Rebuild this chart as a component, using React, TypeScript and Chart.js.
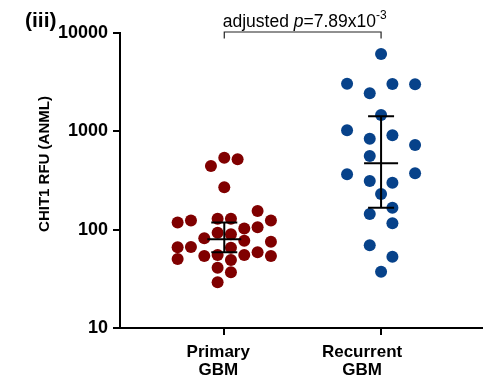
import { useEffect, useRef } from 'react';
import { Chart, registerables } from 'chart.js';

Chart.register(...registerables);

const FONT = '"Liberation Sans", Arial, sans-serif';

const categoryLabels = [['Primary', 'GBM'], ['Recurrent', 'GBM']];
const categoryPositions = [1, 2];
const yTickValues = [10, 100, 1000, 10000];
const yTickLabels = ['10', '100', '1000', '10000'];
const yAxisTitle = 'CHIT1 RFU (ANML)';
const panelLabel = '(iii)';
const annotationParts = ['adjusted ', 'p', '=7.89x10', '-3'];

const primaryValues = [
  444, 539, 519, 270, 155, 118, 124, 129, 129, 124, 103, 106, 93, 89.7, 81.7,
  77.2, 75.4, 66.2, 66.7, 65.6, 55.2, 54, 55.2, 58.9, 54, 50.3, 49.2, 41, 36.8, 29.2,
];
const primarySlots = [
  -1, 0, 1, 0, 2.5, -3.5, -2.5, -0.5, 0.5, 3.5, 1.5, 2.5, -0.5, 0.5, -1.5,
  1.5, 3.5, -3.5, -2.5, 0.5, -0.5, -1.5, 1.5, 2.5, 3.5, -3.5, 0.5, -0.5, 0.5, -0.5,
];
const recurrentValues = [
  6116, 3050, 3030, 3010, 2436, 1466, 1024, 841, 911, 726, 561, 366, 374, 312, 300,
  231, 167, 144, 116, 69.3, 53.1, 37.4,
];
const recurrentSlots = [
  0, -3, 1, 3, -1, 0, -3, -1, 1, 3, -1, -3, 3, -1, 1,
  0, 1, -1, 1, -1, 1, 0,
];

const medians = [79.8, 473];
const lowerBars = [58.9, 167];
const upperBars = [118, 1422];

const primarySlotWidth = 0.085;
const recurrentSlotWidth = 0.0723;
const labelShifts = [-6, -19];

const overlayPlugin = {
  id: 'overlay',
  afterDatasetsDraw(chart: any) {
    const { ctx, scales } = chart;
    const xs = scales.x;
    const ys = scales.y;
    ctx.save();
    ctx.strokeStyle = '#000';
    ctx.lineWidth = 2;
    categoryPositions.forEach((c, i) => {
      const px = xs.getPixelForValue(c);
      const yMed = ys.getPixelForValue(medians[i]);
      const yLo = ys.getPixelForValue(lowerBars[i]);
      const yHi = ys.getPixelForValue(upperBars[i]);
      ctx.beginPath();
      ctx.moveTo(px, yHi);
      ctx.lineTo(px, yLo);
      ctx.moveTo(px - 17, yMed);
      ctx.lineTo(px + 17, yMed);
      ctx.moveTo(px - 13, yHi);
      ctx.lineTo(px + 13, yHi);
      ctx.moveTo(px - 13, yLo);
      ctx.lineTo(px + 13, yLo);
      ctx.stroke();
    });
    ctx.restore();
  },
  afterDraw(chart: any) {
    const { ctx, scales, chartArea } = chart;
    const xs = scales.x;
    const x1 = xs.getPixelForValue(categoryPositions[0]);
    const x2 = xs.getPixelForValue(categoryPositions[1]);
    ctx.save();
    // bracket
    const by = chartArea.top - 1;
    ctx.strokeStyle = '#222';
    ctx.lineWidth = 1.2;
    ctx.beginPath();
    ctx.moveTo(x1, by + 6.5);
    ctx.lineTo(x1, by);
    ctx.lineTo(x2, by);
    ctx.lineTo(x2, by + 6.5);
    ctx.stroke();

    // annotation text
    const fonts = [
      `17.5px ${FONT}`,
      `italic 17.5px ${FONT}`,
      `17.5px ${FONT}`,
      `12px ${FONT}`,
    ];
    let total = 0;
    const widths = annotationParts.map((t, i) => {
      ctx.font = fonts[i];
      const w = ctx.measureText(t).width;
      total += w;
      return w;
    });
    let x = (x1 + x2) / 2 - total / 2 + 2;
    const baseline = 27;
    ctx.fillStyle = '#000';
    ctx.textAlign = 'left';
    ctx.textBaseline = 'alphabetic';
    annotationParts.forEach((t, i) => {
      ctx.font = fonts[i];
      ctx.fillText(t, x, i === 3 ? baseline - 8 : baseline);
      x += widths[i];
    });

    // category labels
    ctx.font = `bold 17px ${FONT}`;
    ctx.textAlign = 'center';
    ctx.textBaseline = 'middle';
    categoryPositions.forEach((c, i) => {
      const px = xs.getPixelForValue(c) + labelShifts[i];
      categoryLabels[i].forEach((line, j) => {
        ctx.fillText(line, px, chartArea.bottom + 24 + j * 18.3);
      });
    });

    // panel label
    ctx.textAlign = 'left';
    ctx.textBaseline = 'alphabetic';
    ctx.font = `bold 21px ${FONT}`;
    ctx.fillText(panelLabel, 25, 27);

    // y axis title
    ctx.translate(45, 164);
    ctx.rotate(-Math.PI / 2);
    ctx.font = `bold 15px ${FONT}`;
    ctx.textAlign = 'center';
    ctx.textBaseline = 'middle';
    ctx.fillText(yAxisTitle, 0, 0);
    ctx.restore();
  },
};

export default function App() {
  const ref = useRef<HTMLCanvasElement | null>(null);
  useEffect(() => {
    if (!ref.current) return;
    const chart = new Chart(ref.current, {
      type: 'scatter',
      data: {
        datasets: [
          {
            label: 'Primary GBM',
            data: primaryValues.map((v, i) => ({ x: categoryPositions[0] + primarySlots[i] * primarySlotWidth, y: v })),
            backgroundColor: '#800000',
            borderWidth: 0,
            pointRadius: 6,
          },
          {
            label: 'Recurrent GBM',
            data: recurrentValues.map((v, i) => ({ x: categoryPositions[1] + recurrentSlots[i] * recurrentSlotWidth, y: v })),
            backgroundColor: '#07428a',
            borderWidth: 0,
            pointRadius: 6,
          },
        ],
      },
      options: {
        animation: false,
        responsive: false,
        maintainAspectRatio: false,
        layout: { autoPadding: false, padding: { top: 33, left: 0, right: 0, bottom: 0 } },
        plugins: { legend: { display: false }, tooltip: { enabled: false } },
        scales: {
          x: {
            type: 'linear',
            min: 0.335,
            max: 2.65,
            afterBuildTicks: (s: any) => {
              s.ticks = categoryPositions.map((v) => ({ value: v }));
            },
            afterFit: (s: any) => {
              s.height = 53;
              s.paddingLeft = 0;
              s.paddingRight = 0;
            },
            ticks: { display: false },
            grid: { drawOnChartArea: false, drawTicks: true, tickLength: 7, color: '#000', lineWidth: 2 },
            border: { display: true, color: '#000', width: 2 },
          },
          y: {
            type: 'logarithmic',
            min: 10,
            max: 10000,
            afterBuildTicks: (s: any) => {
              s.ticks = yTickValues.map((v) => ({ value: v }));
            },
            afterFit: (s: any) => {
              s.width = 120;
            },
            ticks: {
              autoSkip: false,
              color: '#000',
              padding: 5,
              font: { family: FONT, size: 18, weight: 'bold' },
              callback: (v: any) => {
                const i = yTickValues.indexOf(Number(v));
                return i >= 0 ? yTickLabels[i] : '';
              },
            },
            grid: { drawOnChartArea: false, drawTicks: true, tickLength: 7, color: '#000', lineWidth: 2 },
            border: { display: true, color: '#000', width: 2 },
          },
        },
      },
      plugins: [overlayPlugin],
    } as any);
    return () => chart.destroy();
  }, []);
  return (
    <div style={{ position: 'absolute', left: 0, top: 0, width: 483, height: 381, background: '#fff' }}>
      <canvas ref={ref} width={483} height={381} />
    </div>
  );
}
